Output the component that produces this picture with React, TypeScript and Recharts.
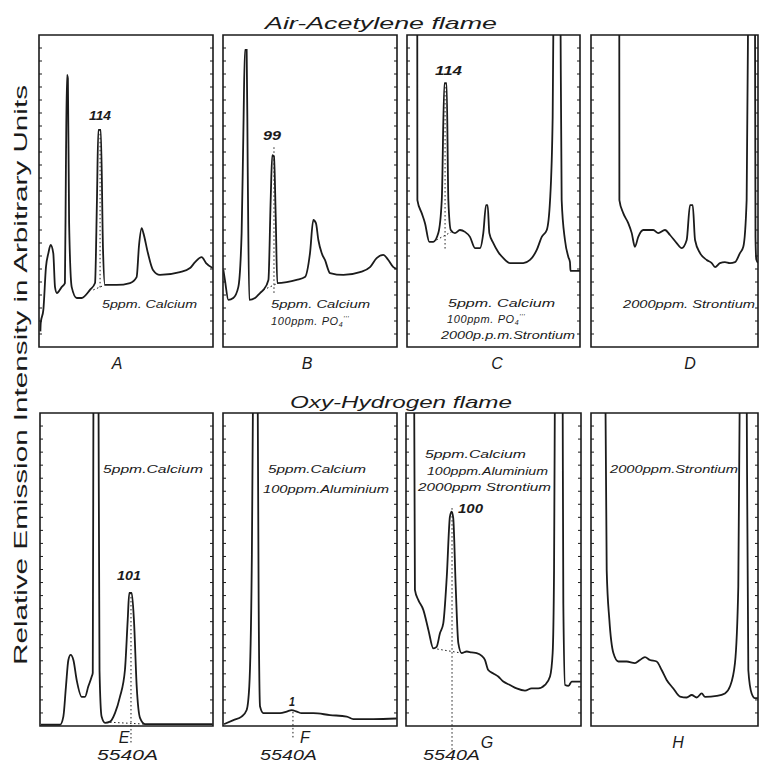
import React from 'react';
import { LineChart, Line, XAxis, YAxis, ReferenceArea, ReferenceLine } from 'recharts';

const INK = '#1b1b1b';
const FONT = "'Liberation Sans', Arial, sans-serif";

// Traces: [x (% of panel width), y (% of panel height)]
const traceA = [
  [0.8, 5], [1.0, 7.7], [2.5, 11.9], [4.0, 25.6], [5.4, 30.1], [6.7, 32.7], [8.2, 30.1], [9.2, 19.2],
  [10.3, 17.3], [13.0, 19.2], [14.9, 20.5], [15.5, 60], [16.1, 87.2], [16.6, 86], [17.3, 40], [18.8, 19.2],
  [21.7, 15.7], [24.5, 15.7], [29.3, 18.3], [32.2, 20.5], [33.3, 47], [34.1, 69.6], [35.5, 69.6],
  [36.8, 31], [37.9, 19.9], [44.7, 19.9], [52.3, 20.5], [56.1, 22.4], [57.5, 32.7], [59.0, 38.1],
  [60.0, 36.5], [62.6, 30.1], [65.5, 24.7], [69.5, 23.1], [81.0, 24.0], [86.8, 25.3], [89.7, 27.2],
  [93.5, 28.8], [96.0, 26.9], [99.8, 25.3],
];
const traceB = [
  [0.2, 24.7], [1.1, 21.5], [3.1, 15.1], [5.9, 15.7], [8.8, 19.2], [10.7, 36.5], [11.7, 68.6],
  [12.6, 95.2], [13.6, 95.2], [14.2, 57.7], [15.1, 15.1], [18.4, 15.7], [21.3, 17.3], [23.2, 18.3],
  [26.1, 21.5], [27.4, 47.1], [28.3, 61.5], [29.3, 61], [30.3, 41.7], [31.2, 20.5], [36.6, 20.8],
  [42.3, 21.5], [47.1, 22.4], [50, 30.1], [51.9, 40.7], [53.4, 39.7], [54.8, 34.3], [56.7, 30.1],
  [58.6, 27.9], [61.5, 23.7], [69.2, 23.1], [78.7, 24], [84.5, 25.6], [88.3, 28.5], [92.1, 29.5],
  [95, 27.9], [97.9, 25.6], [99.8, 25],
];
const traceC = [
  [5.9, 130], [6.0, 47.1], [8.5, 42.9], [10.4, 39.7], [12.9, 33.7], [15.2, 33.7], [18.1, 36.5],
  [20.1, 47.1], [21.6, 84.6], [22.9, 84.6], [23.9, 47.1], [25.3, 37.5], [27.7, 36.5], [30.6, 37.5],
  [33.5, 36.9], [36.4, 35.3], [39.3, 31.7], [42.2, 31.7], [44.1, 36.5], [45.7, 45.5], [46.6, 45.5],
  [47.6, 36.5], [49.9, 33.3], [52.8, 30.4], [55.7, 28.5], [59.5, 26.9], [63.4, 26.9], [67.2, 26.9],
  [71.1, 27.9], [75, 31.1], [77.9, 35.3], [80.8, 37.5], [82.7, 47.1], [84.2, 73.7], [84.7, 110],
  [86.6, 400], [88.7, 110], [89.4, 47.1], [91.3, 34.3], [93.3, 28.8], [94.2, 27.2], [94.5, 24.4],
  [100, 24.4],
];
const traceD = [
  [16.9, 130], [17.0, 47.1], [19.3, 42.9], [22.3, 39.7], [24.4, 36.5], [26.3, 32.1], [28.3, 35.3],
  [31.3, 37.5], [37.3, 37.5], [40.3, 36.5], [44.3, 37.5], [47.3, 35.9], [51.3, 33.3], [54.3, 31.7],
  [57.3, 34.3], [59.3, 45.5], [60.9, 45.5], [62.3, 34.3], [65.3, 30.1], [69.3, 27.9], [72.3, 26.9],
  [74.3, 25.6], [77.2, 26.9], [80.2, 27.2], [83.2, 26.9], [86.2, 27.2], [89.2, 30.1], [91.2, 32.1],
  [93.2, 47.1], [94.1, 110], [96.3, 400], [98.2, 110], [98.5, 35], [99.0, 28], [100, 27],
];
const traceE = [
  [0.5, 0.4], [11.6, 0.4], [13.5, 3], [15, 12.6], [16.4, 21.1], [17.7, 22.7], [19.3, 21.1],
  [21.2, 14.7], [24.1, 9.3], [26, 9.3], [27.9, 12.6], [29.9, 15.8], [30.5, 17], [30.9, 110],
  [32.4, 400], [33.8, 110], [34.4, 17.9], [35.6, 3], [37.6, 1], [40.5, 1.4], [43.4, 4.2], [46.2, 9.3],
  [49.1, 17.9], [50.7, 33.9], [51.6, 42.5], [53, 42.5], [54.3, 33.9], [55.9, 12.6], [57.8, 2.6],
  [60.7, 0.6], [99.8, 0.6],
];
const traceF = [
  [0.6, 0.6], [6.0, 1.9], [10.7, 3], [13.6, 5.1], [15.1, 12.6], [16.5, 49.8], [17.3, 110],
  [18.6, 400], [19.9, 110], [20.5, 39], [21.3, 6.2], [23.2, 4.1], [27, 4.1], [32.8, 4.1], [36.6, 4.6],
  [39.5, 5.1], [42.4, 4.6], [45.2, 4.1], [51.9, 4.1], [61.5, 3.5], [71.1, 3], [74.9, 2.2], [86.4, 2.2],
  [99.8, 2.4],
];
const traceG = [
  [4.5, 130], [5.1, 43.5], [7, 40.3], [9.9, 37.1], [12.8, 30.7], [15.6, 24.8], [17.5, 25.3],
  [19.4, 29.6], [21.3, 32.8], [23.3, 47.7], [25.1, 66.9], [26.1, 68.5], [27, 66.4], [28.4, 44.6],
  [29.9, 26.5], [31.8, 23.3], [34.7, 23.8], [37.5, 23.5], [40.4, 23.3], [43.3, 22.4], [45.1, 21.1],
  [47, 17.9], [49.9, 16.8], [52.7, 15.8], [55.6, 14.2], [59.4, 13.1], [63.2, 12.0], [68, 11.3],
  [71.8, 12], [75.6, 12], [79.4, 13.1], [82.3, 15.8], [83.8, 23.3], [84.6, 49.8], [85.1, 110],
  [87.3, 400], [89.5, 110], [89.9, 39.1], [90.9, 13.1], [92.8, 12.8], [94.7, 14.2], [99.8, 14.2],
];
const traceH = [
  [8.3, 130], [9.4, 49.8], [11, 33.9], [13.4, 23.3], [16.4, 20.6], [21.4, 20.6], [26.3, 20.1],
  [29.3, 21.1], [32.3, 22], [35.3, 21.1], [39.3, 20.6], [42.3, 17.9], [45.3, 14.7], [49.3, 12],
  [53.3, 9.4], [57.3, 9.1], [60.3, 9.9], [63.3, 9.1], [66.3, 10.4], [68.3, 9.3], [75.3, 9.6],
  [80.2, 10.4], [83.2, 12.6], [86.2, 20.1], [88.2, 44.6], [89.1, 110], [91.2, 400], [93.2, 110],
  [94.2, 17.9], [96.2, 10.4], [98.2, 8.9], [100, 8.9],
];

// Dotted construction lines: [x1, y1, x2, y2]
const dotsA = [[35.1, 69.6, 35.1, 18.3], [31.2, 18.3, 37.9, 19.9]];
const dotsB = [[29.3, 64, 29.3, 17.3], [23.2, 18.3, 31.8, 20.5]];
const dotsC = [[22.0, 84.6, 22.0, 31], [15, 33.7, 26, 37]];
const dotsD = [];
const dotsE = [[52.6, 42.5, 52.6, -5.4], [40.5, 1.2, 60.7, 0.6]];
const dotsF = [[40.2, 4.5, 40.2, -4]];
const dotsG = [[26.3, 69.6, 26.3, -8], [15.6, 24.8, 31.8, 23.3]];
const dotsH = [];

// 24 scale divisions on each side of every panel
const TICKS = Array.from({ length: 23 }, (_, i) => ((i + 1) * 100) / 24);
const TICK_PX = 3;

const toPts = (a) => a.map(([x, y]) => ({ x, y }));

const panels = [
  { id: 'A', left: 39, top: 35, w: 174, h: 312, data: traceA, dots: dotsA, extra: 0 },
  { id: 'B', left: 223, top: 35, w: 174, h: 312, data: traceB, dots: dotsB, extra: 0 },
  { id: 'C', left: 407, top: 35, w: 173, h: 312, data: traceC, dots: dotsC, extra: 0 },
  { id: 'D', left: 591, top: 35, w: 167, h: 312, data: traceD, dots: dotsD, extra: 0 },
  { id: 'E', left: 40, top: 413, w: 173, h: 313, data: traceE, dots: dotsE, extra: 40 },
  { id: 'F', left: 223, top: 413, w: 174, h: 313, data: traceF, dots: dotsF, extra: 40 },
  { id: 'G', left: 406, top: 413, w: 175, h: 313, data: traceG, dots: dotsG, extra: 40 },
  { id: 'H', left: 591, top: 413, w: 167, h: 313, data: traceH, dots: dotsH, extra: 40 },
];

// [text, x, baseline y, textLength, fontSize]
const notes = [
  ['114', 89, 120, 22, 13],
  ['5ppm. Calcium', 102, 308, 95, 11],
  ['99', 263, 140, 18, 13],
  ['5ppm. Calcium', 271, 308, 99, 11],
  ['114', 435, 75, 27, 13],
  ['5ppm. Calcium', 448, 307, 107, 11],
  ['2000p.p.m.Strontium', 441, 339, 134, 11],
  ['2000ppm. Strontium', 623, 308, 132, 11],
  ['5ppm.Calcium', 103, 473, 100, 11],
  ['101', 117, 580, 24, 13],
  ['5ppm.Calcium', 268, 473, 98, 11],
  ['100ppm.Aluminium', 263, 493, 126, 11],
  ['1', 289, 706, 6, 13],
  ['5ppm.Calcium', 425, 458, 101, 11],
  ['100ppm.Aluminium', 427, 475, 121, 11],
  ['2000ppm Strontium', 418, 491, 133, 11],
  ['100', 458, 513, 25, 13],
  ['2000ppm.Strontium', 610, 473, 128, 11],
];
const poNotes = [
  [271, 325],
  [447, 323],
];
const letters = [
  ['A', 117, 369], ['B', 307, 369], ['C', 497, 369], ['D', 690, 369],
  ['E', 124, 743], ['F', 305, 743], ['G', 487, 748], ['H', 678, 748],
];
const waveLabels = [
  ['5540A', 97, 760, 61], ['5540A', 260, 760, 57], ['5540A', 423, 760, 57],
];

function Panel({ p }) {
  const data = toPts(p.data);
  const tw = (TICK_PX / p.w) * 100;
  return (
    <div style={{ position: 'absolute', left: p.left - 2, top: p.top - 2 }}>
      <LineChart
        width={p.w + 4}
        height={p.h + 4 + p.extra}
        margin={{ top: 2, right: 2, left: 2, bottom: 2 + p.extra }}
      >
        <XAxis type="number" dataKey="x" domain={[0, 100]} hide allowDataOverflow />
        <YAxis type="number" domain={[0, 100]} allowDataOverflow hide />
        <ReferenceArea
          x1={0}
          x2={100}
          y1={0}
          y2={100}
          fill="none"
          fillOpacity={0}
          stroke={INK}
          strokeWidth={1.6}
          ifOverflow="visible"
        />
        {TICKS.map((t) => (
          <ReferenceLine
            key={'l' + t}
            segment={[{ x: 0, y: t }, { x: tw, y: t }]}
            stroke={INK}
            strokeWidth={1}
            ifOverflow="visible"
          />
        ))}
        {TICKS.map((t) => (
          <ReferenceLine
            key={'r' + t}
            segment={[{ x: 100 - tw, y: t }, { x: 100, y: t }]}
            stroke={INK}
            strokeWidth={1}
            ifOverflow="visible"
          />
        ))}
        {p.dots.map((d, i) => (
          <ReferenceLine
            key={i}
            segment={[{ x: d[0], y: d[1] }, { x: d[2], y: d[3] }]}
            stroke={INK}
            strokeWidth={1}
            strokeDasharray="1.5 2.5"
            ifOverflow="visible"
          />
        ))}
        <Line
          data={data}
          dataKey="y"
          type="monotone"
          stroke={INK}
          strokeWidth={1.8}
          dot={false}
          isAnimationActive={false}
        />
      </LineChart>
    </div>
  );
}

export default function App() {
  return (
    <div style={{ position: 'absolute', left: 0, top: 0, width: 761, height: 764, background: '#fff', overflow: 'hidden' }}>
      {panels.map((p) => (
        <Panel key={p.id} p={p} />
      ))}
      <svg width={761} height={764} style={{ position: 'absolute', left: 0, top: 0, pointerEvents: 'none' }}>
        <g fontFamily={FONT} fill={INK} fontStyle="italic">
          <text x={265} y={29} fontSize={17} textLength={232} lengthAdjust="spacingAndGlyphs">Air-Acetylene flame</text>
          <text x={290} y={408} fontSize={17} textLength={222} lengthAdjust="spacingAndGlyphs">Oxy-Hydrogen flame</text>
          <text
            transform="translate(27,375) rotate(-90)"
            x={0}
            y={0}
            fontSize={19}
            fontStyle="normal"
            textAnchor="middle"
            textLength={580}
            lengthAdjust="spacingAndGlyphs"
          >
            Relative Emission Intensity in Arbitrary Units
          </text>
          {notes.map(([t, x, y, len, fs], i) => (
            <text
              key={i}
              x={x}
              y={y}
              fontSize={fs}
              fontWeight={fs > 12 ? 'bold' : 'normal'}
              textLength={len}
              lengthAdjust="spacingAndGlyphs"
            >
              {t}
            </text>
          ))}
          {poNotes.map(([x, y], i) => (
            <text key={'po' + i} x={x} y={y} fontSize={11} letterSpacing={0.6}>
              100ppm. PO
              <tspan fontSize={7} dy={2}>4</tspan>
              <tspan fontSize={7} dy={-6}>'''</tspan>
            </text>
          ))}
          {letters.map(([t, x, y]) => (
            <text key={t} x={x} y={y} fontSize={16} textAnchor="middle">{t}</text>
          ))}
          {waveLabels.map(([t, x, y, len], i) => (
            <text key={'w' + i} x={x} y={y} fontSize={14} textLength={len} lengthAdjust="spacingAndGlyphs">{t}</text>
          ))}
        </g>
      </svg>
    </div>
  );
}
